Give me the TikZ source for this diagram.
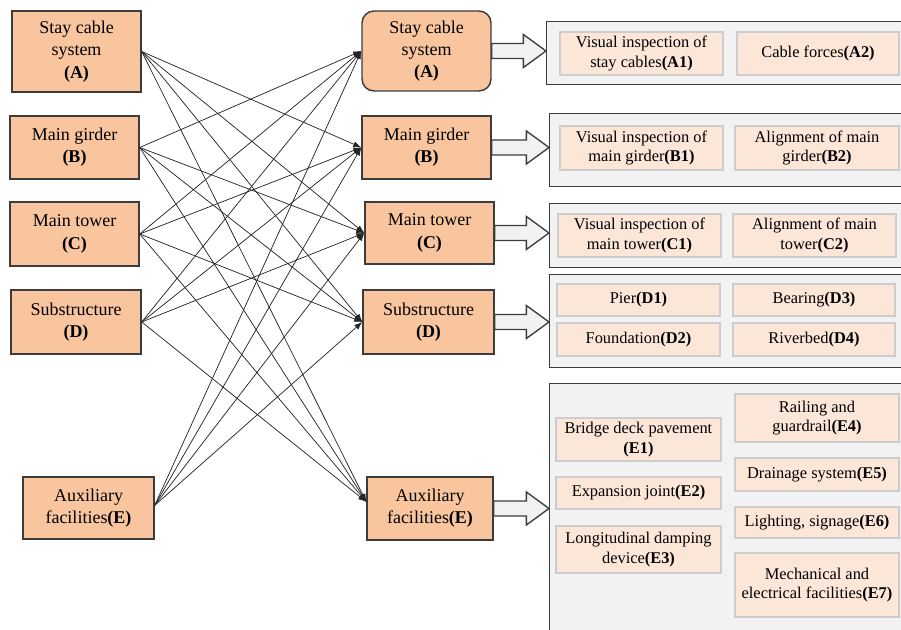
\documentclass[tikz,border=0pt]{standalone}
\usepackage{fontspec}
\setmainfont{Liberation Serif}
\usetikzlibrary{arrows.meta,calc}
\definecolor{peach}{HTML}{F8C59E}
\definecolor{lightpeach}{HTML}{FBE6D8}
\definecolor{panelgray}{HTML}{F2F2F2}
\definecolor{edgegray}{HTML}{3C3C3C}
\definecolor{innerborder}{HTML}{CDCDCD}
\tikzset{
  wh/.style 2 args={minimum width=#1*0.75pt, minimum height=#2*0.75pt},
  mainbox/.style={draw=edgegray, line width=1.1pt, fill=peach, align=center, inner sep=0pt,
    font=\fontsize{13.5}{16.7}\selectfont},
  panel/.style={draw=edgegray, line width=1pt, fill=panelgray, inner sep=0pt, anchor=north west},
  subbox/.style={draw=innerborder, line width=0.9pt, fill=lightpeach, align=center, inner sep=0pt,
    font=\fontsize{12.3}{14.5}\selectfont},
  link/.style={line width=0.55pt, draw=black!85, -{Latex[length=6pt,width=4.5pt]}},
  blockarrow/.style={draw=edgegray, line width=1pt, fill=panelgray, line join=miter},
}
\newcommand\blockarr[2]{%
  \path[blockarrow] let \p1=(#1.east), \p2=(#2.west) in
    ({\x1},{\y1+5.6pt}) -- ({\x2-17pt},{\y1+5.6pt}) -- ({\x2-17pt},{\y1+12.4pt})
    -- ({\x2},{\y1}) -- ({\x2-17pt},{\y1-12.4pt}) -- ({\x2-17pt},{\y1-5.6pt})
    -- ({\x1},{\y1-5.6pt}) -- cycle;}
\begin{document}
\begin{tikzpicture}[x=0.75pt,y=-0.75pt]
\useasboundingbox (0,0) rectangle (901,630);

% panels
\node[panel, wh={370}{63}] (PA) at (546,21) {};
\node[panel, wh={370}{73}] (PB) at (549,113) {};
\node[panel, wh={370}{64}] (PC) at (549,203) {};
\node[panel, wh={370}{93}] (PD) at (549,274) {};
\node[panel, wh={370}{260}] (PE) at (549,383) {};

% left boxes
\node[mainbox, wh={129}{81}] (LA) at (76.5,51.5) {Stay cable\\system\\\textbf{(A)}};
\node[mainbox, wh={129}{63}] (LB) at (74.5,147.5) {Main girder\\\textbf{(B)}};
\node[mainbox, wh={129}{64}] (LC) at (74.5,234) {Main tower\\\textbf{(C)}};
\node[mainbox, wh={130}{64}] (LD) at (76,322) {Substructure\\\textbf{(D)}};
\node[mainbox, wh={131}{62}] (LE) at (88.5,508) {Auxiliary\\facilities\textbf{(E)}};

% right boxes
\node[mainbox, wh={129}{80}, rounded corners=9pt] (RA) at (426.5,51) {Stay cable\\system\\\textbf{(A)}};
\node[mainbox, wh={129}{63}] (RB) at (426.5,147.5) {Main girder\\\textbf{(B)}};
\node[mainbox, wh={129}{62}] (RC) at (429.5,233) {Main tower\\\textbf{(C)}};
\node[mainbox, wh={131}{64}] (RD) at (428.5,322) {Substructure\\\textbf{(D)}};
\node[mainbox, wh={126}{63}] (RE) at (430,508.5) {Auxiliary\\facilities\textbf{(E)}};

% connector end points
\foreach \s in {A,B,C,D}{
  \coordinate (L\s-out) at (L\s.east);
  \coordinate (R\s-in) at (R\s.west);
}
\coordinate (LE-out) at ([yshift=2pt]LE.east);
\coordinate (RE-in) at ([yshift=5pt]RE.west);

% links
\foreach \s in {A,B,C,D,E}{
  \foreach \t in {A,B,C,D,E}{
    \ifx\s\t\else\draw[link] (L\s-out) -- (R\t-in);\fi
  }
}

% block arrows
\blockarr{RA}{PA}
\blockarr{RB}{PB}
\blockarr{RC}{PC}
\blockarr{RD}{PD}
\blockarr{RE}{PE}

% inner boxes
\node[subbox, wh={163}{43}] (A1) at (641.5,53.5) {Visual inspection of\\stay cables\textbf{(A1)}};
\node[subbox, wh={162}{43}] (A2) at (818,53.5) {Cable forces\textbf{(A2)}};
\node[subbox, wh={163}{44}] (B1) at (641.5,148) {Visual inspection of\\main girder\textbf{(B1)}};
\node[subbox, wh={164}{44}] (B2) at (817,148) {Alignment of main\\girder\textbf{(B2)}};
\node[subbox, wh={163}{43}] (C1) at (639.5,235.5) {Visual inspection of\\main tower\textbf{(C1)}};
\node[subbox, wh={163}{43}] (C2) at (814.5,235.5) {Alignment of main\\tower\textbf{(C2)}};
\node[subbox, wh={163}{32}] (D1) at (638.5,300) {Pier\textbf{(D1)}};
\node[subbox, wh={162}{32}] (D3) at (814,300) {Bearing\textbf{(D3)}};
\node[subbox, wh={163}{33}] (D2) at (638.5,339.5) {Foundation\textbf{(D2)}};
\node[subbox, wh={162}{33}] (D4) at (814,339.5) {Riverbed\textbf{(D4)}};
\node[subbox, wh={165}{43}] (E1) at (638.5,439.5) {Bridge deck pavement\\\textbf{(E1)}};
\node[subbox, wh={165}{32}] (E2) at (638.5,493) {Expansion joint\textbf{(E2)}};
\node[subbox, wh={165}{47}] (E3) at (638.5,549.5) {Longitudinal damping\\device\textbf{(E3)}};
\node[subbox, wh={164}{48}] (E4) at (817,418) {Railing and\\guardrail\textbf{(E4)}};
\node[subbox, wh={164}{33}] (E5) at (817,474.5) {Drainage system\textbf{(E5)}};
\node[subbox, wh={164}{31}] (E6) at (817,522.5) {Lighting, signage\textbf{(E6)}};
\node[subbox, wh={164}{64}] (E7) at (817,585) {Mechanical and\\electrical facilities\textbf{(E7)}};
\end{tikzpicture}
\end{document}
